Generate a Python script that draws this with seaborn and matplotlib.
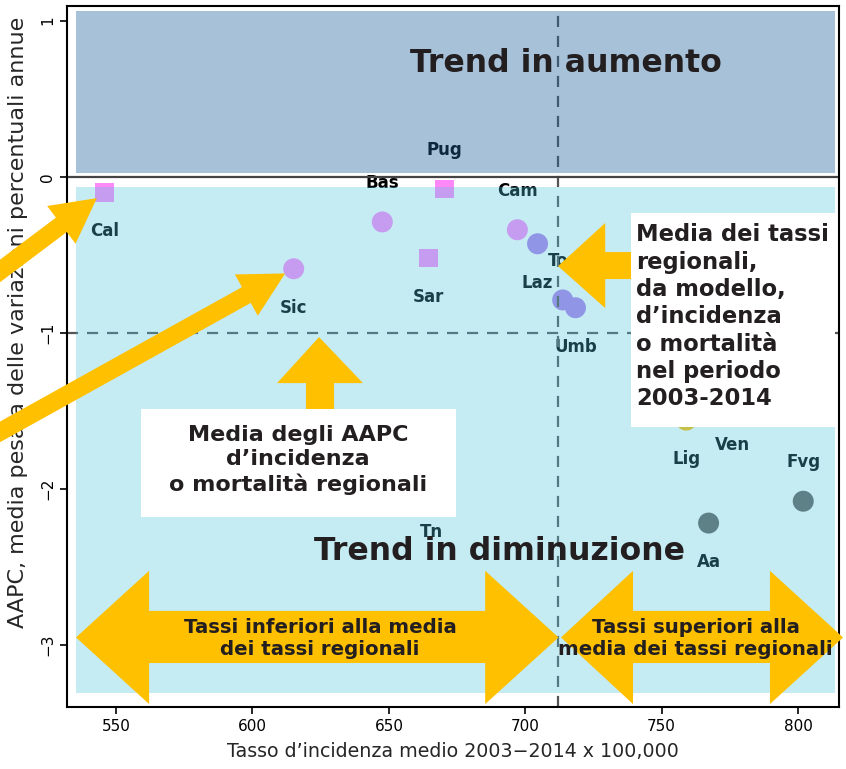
import matplotlib
matplotlib.use("Agg")
import pandas as pd
import matplotlib.pyplot as plt
from matplotlib.patches import Rectangle, Polygon
import seaborn as sns

# valori
regioni = ["Cal", "Pug", "Bas", "Sic", "Sar", "Cam", "Laz", "Tos", "Umb",
           "Lig", "Ven", "Fvg", "Aa", "Tn"]
tasso = [545.8, 670.3, 647.6, 615.1, 664.5, 697.1, 704.5, 713.7, 718.4,
         759.0, 775.8, 801.9, 767.2, 665.7]
aapc = [-0.10, -0.08, -0.29, -0.59, -0.52, -0.34, -0.43, -0.79, -0.84,
        -1.56, -1.47, -2.08, -2.22, -2.03]
forma = ["quadrato", "quadrato", "cerchio", "cerchio", "quadrato", "cerchio",
         "cerchio", "cerchio", "cerchio", "cerchio", "cerchio", "cerchio",
         "cerchio", "cerchio"]
colori = ["#FF88F8", "#FF88F8", "#FF88F8", "#FF88F8", "#FF88F8", "#FF88F8",
          "#B07FEA", "#B07FEA", "#B07FEA", "#FFBE00", "#FFBE00", "#65615E",
          "#65615E", "#65615E"]
etichetta = ["sotto", "sopra", "sopra", "sotto", "sotto", "sopra", "sotto",
             "sopra", "sotto", "sotto", "sotto", "sopra", "sotto", "sotto"]

media_tassi = 712.0
media_aapc = -1.0

df = pd.DataFrame({"regione": regioni, "tasso": tasso, "aapc": aapc,
                   "forma": forma, "etichetta": etichetta})

GIALLO = "#FFC000"
SCURO = "#231F20"

sns.set_theme(style="ticks")
plt.rcParams["font.family"] = ["DejaVu Sans"]

fig = plt.figure(figsize=(8.46, 7.69), dpi=100)
ax = fig.add_axes([0.0792, 0.0806, 0.9125, 0.9116])

sns.scatterplot(data=df, x="tasso", y="aapc", hue="regione",
                palette=dict(zip(regioni, colori)), style="forma",
                markers={"quadrato": "s", "cerchio": "o"},
                size="forma", sizes={"quadrato": 180, "cerchio": 228},
                linewidth=0, legend=False, ax=ax, zorder=1)

for _, r in df.iterrows():
    dy = 0.25 if r["etichetta"] == "sopra" else -0.25
    ax.text(r["tasso"], r["aapc"] + dy, r["regione"], ha="center", va="center",
            fontsize=12, fontweight="bold", color="black", zorder=2)

ax.axvline(media_tassi, color="#555555", lw=1.6, ls=(0, (5, 4)), zorder=2)
ax.axhline(media_aapc, color="#555555", lw=1.6, ls=(0, (5, 4)), zorder=2)
ax.axhline(0, color="#444444", lw=1.6, zorder=2)

# riquadri semitrasparenti
ax.add_patch(Rectangle((535.3, 0.025), 813.5 - 535.3, 1.06 - 0.025,
                       fc=(35/255, 100/255, 160/255), alpha=0.4, ec="none", zorder=3))
ax.add_patch(Rectangle((535.3, -3.31), 813.5 - 535.3, -0.066 + 3.31,
                       fc=(79/255, 197/255, 221/255), alpha=0.33, ec="none", zorder=3))

# riquadri bianchi
ax.add_patch(Rectangle((738.8, -1.604), 813.6 - 738.8, 1.604 - 0.233,
                       fc="white", ec="none", zorder=4))
ax.add_patch(Rectangle((559.2, -2.181), 674.6 - 559.2, 2.181 - 1.489,
                       fc="white", ec="none", zorder=4))

ax.text(740.5, -0.899, "Media dei tassi\nregionali,\nda modello,\nd’incidenza\n"
        "o mortalità\nnel periodo\n2003-2014", ha="left", va="center",
        fontsize=16.3, fontweight="bold", color=SCURO, linespacing=1.24, zorder=6)
ax.text(616.7, -1.816, "Media degli AAPC\nd’incidenza\no mortalità regionali",
        ha="center", va="center", fontsize=16, fontweight="bold", color=SCURO,
        linespacing=1.28, zorder=6)

# frecce gialle
freccia_su = [(624.4, -1.028), (640.5, -1.323), (629.9, -1.323), (629.9, -1.6),
              (619.6, -1.6), (619.6, -1.323), (609.0, -1.323)]
ax.add_patch(Polygon(freccia_su, closed=True, fc=GIALLO, ec="none", zorder=3.5))
freccia_sx = [(712.0, -0.573), (729.3, -0.297), (729.3, -0.483), (745.0, -0.483),
              (745.0, -0.656), (729.3, -0.656), (729.3, -0.842)]
ax.add_patch(Polygon(freccia_sx, closed=True, fc=GIALLO, ec="none", zorder=3.5))


def doppia(x0, xa, xb, x1):
    yc, yt, yb, st, sb = -2.953, -2.526, -3.38, -2.783, -3.117
    return [(x0, yc), (xa, yt), (xa, st), (xb, st), (xb, yt), (x1, yc),
            (xb, yb), (xb, sb), (xa, sb), (xa, yb)]


ax.add_patch(Polygon(doppia(535.3, 562.1, 685.3, 712.2), closed=True,
                     fc=GIALLO, ec="none", zorder=5, clip_on=False))
ax.add_patch(Polygon(doppia(713.1, 739.5, 789.7, 816.5), closed=True,
                     fc=GIALLO, ec="none", zorder=5, clip_on=False))

ax.text(624.8, -2.957, "Tassi inferiori alla media\ndei tassi regionali",
        ha="center", va="center", fontsize=14.2, fontweight="bold",
        color=SCURO, linespacing=1.2, zorder=6)
ax.text(762.4, -2.957, "Tassi superiori alla\nmedia dei tassi regionali",
        ha="center", va="center", fontsize=14.2, fontweight="bold",
        color=SCURO, linespacing=1.2, zorder=6)

stile = "simple,head_length=3.2,head_width=3.4,tail_width=1.3"
for reg, coda in [("Cal", (-20, 769 - 286)), ("Sic", (-20, 769 - 443))]:
    r = df[df["regione"] == reg].iloc[0]
    ax.annotate("", xy=(r["tasso"], r["aapc"]), xycoords="data",
                xytext=coda, textcoords="figure pixels",
                arrowprops=dict(arrowstyle=stile, fc=GIALLO, ec="none",
                                mutation_scale=10, shrinkA=0, shrinkB=7),
                annotation_clip=False, zorder=5)

ax.text(715.0, 0.67, "Trend in aumento", ha="center", va="baseline",
        fontsize=22.7, fontweight="bold", color=SCURO, zorder=6)
ax.text(690.6, -2.457, "Trend in diminuzione", ha="center", va="baseline",
        fontsize=22.7, fontweight="bold", color=SCURO, zorder=6)

ax.set_xlim(532.0, 815.0)
ax.set_ylim(-3.399, 1.094)
ax.set_xticks([550, 600, 650, 700, 750, 800])
ax.set_yticks([-3, -2, -1, 0, 1])
ax.set_yticklabels(["−3", "−2", "−1", "0", "1"], rotation=90, va="center")
ax.tick_params(direction="out", length=5, width=1.2, labelsize=11, colors="black")
for s in ax.spines.values():
    s.set_linewidth(1.5)
    s.set_color("black")
ax.set_xlabel("Tasso d’incidenza medio 2003−2014 x 100,000", fontsize=13.7)
ax.set_ylabel("AAPC, media pesata delle variazioni percentuali annue", fontsize=16)
ax.yaxis.set_label_coords(-0.0505, 0.549)
ax.xaxis.labelpad = 6

fig.savefig("out.png", dpi=100)
